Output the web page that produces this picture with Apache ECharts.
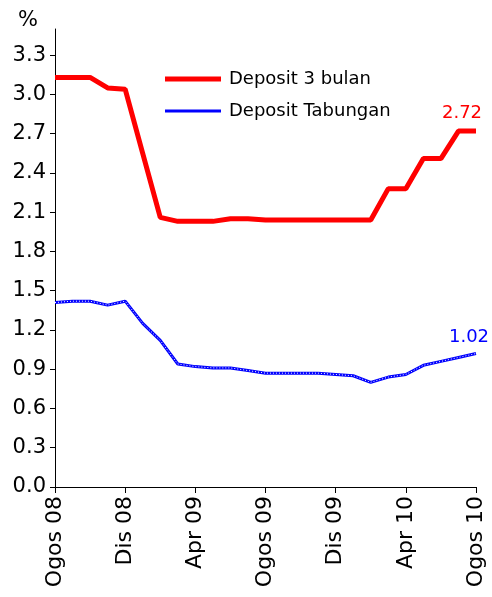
<!DOCTYPE html>
<html>
<head>
<meta charset="utf-8">
<script src="https://cdn.jsdelivr.net/npm/echarts@6/dist/echarts.min.js"></script>
<style>
  html, body { margin: 0; padding: 0; background: #fff; }
  #chart { width: 492px; height: 597px; }
</style>
</head>
<body>
<div id="chart"></div>
<script>
// bulan dari Ogos 08 hingga Ogos 10
const months = ['Ogos', 'Sep', 'Okt', 'Nov', 'Dis', 'Jan', 'Feb', 'Mac', 'Apr', 'Mei', 'Jun', 'Jul']
const categories = []
for (let i = 0; i <= 24; i++) {
    const yr = 8 + Math.floor((i + 7) / 12)
    categories.push(months[i % 12] + ' ' + (yr < 10 ? '0' + yr : '' + yr))
}

const deposit3Bulan = [3.13, 3.13, 3.13, 3.05, 3.04, 2.55, 2.06, 2.03, 2.03, 2.03, 2.05, 2.05, 2.04,
    2.04, 2.04, 2.04, 2.04, 2.04, 2.04, 2.28, 2.28, 2.51, 2.51, 2.72, 2.72]
const depositTabungan = [1.41, 1.42, 1.42, 1.39, 1.42, 1.25, 1.12, 0.94, 0.92, 0.91, 0.91, 0.89, 0.87,
    0.87, 0.87, 0.87, 0.86, 0.85, 0.80, 0.84, 0.86, 0.93, 0.96, 0.99, 1.02]
const yTicks = [0, 0.3, 0.6, 0.9, 1.2, 1.5, 1.8, 2.1, 2.4, 2.7, 3.0, 3.3]

const font = 'DejaVu Sans'

const chart = echarts.init(document.getElementById('chart'))
chart.setOption({
    animation: false,
    textStyle: { fontFamily: font },
    grid: { left: 55, right: 16, top: 29, bottom: 110 },
    legend: {
        orient: 'vertical',
        left: 160,
        top: 65,
        itemWidth: 56,
        itemHeight: 24,
        itemGap: 14,
        textStyle: { fontSize: 18, color: '#000', fontFamily: font, padding: [0, 0, 0, 3] },
        data: [
            { name: 'Deposit 3 bulan', icon: 'path://M0,0H56V5H0Z' },
            { name: 'Deposit Tabungan', icon: 'path://M0,0H56V3H0Z' }
        ]
    },
    xAxis: {
        type: 'category',
        data: categories,
        boundaryGap: false,
        axisLine: { lineStyle: { color: '#000', width: 1 } },
        axisTick: { interval: 3, length: 6, lineStyle: { color: '#000' } },
        axisLabel: { interval: 3, rotate: 90, fontSize: 22, color: '#000', margin: 9, fontFamily: font }
    },
    yAxis: {
        type: 'value',
        min: 0,
        max: 3.5,
        name: '%',
        nameLocation: 'end',
        nameGap: -2,
        nameTextStyle: { fontSize: 21, color: '#000', align: 'right', padding: [0, 17, 0, 0], fontFamily: font },
        splitLine: { show: false },
        axisLine: { show: true, lineStyle: { color: '#000', width: 1 } },
        axisTick: { show: true, length: 5, customValues: yTicks, lineStyle: { color: '#000' } },
        axisLabel: {
            fontSize: 21, color: '#000', margin: 9, fontFamily: font,
            customValues: yTicks,
            formatter: v => v.toFixed(1)
        }
    },
    series: [
        {
            name: 'Deposit 3 bulan',
            type: 'line',
            data: deposit3Bulan,
            symbol: 'none',
            color: '#ff0000',
            lineStyle: { color: '#ff0000', width: 5 },
            endLabel: {
                show: true, fontSize: 18, color: '#ff0000', fontFamily: font,
                distance: 0, align: 'center', verticalAlign: 'bottom', offset: [-14, -9],
                formatter: p => p.value.toFixed(2)
            }
        },
        {
            name: 'Deposit Tabungan',
            type: 'line',
            data: depositTabungan,
            symbol: 'none',
            color: '#0000ff',
            lineStyle: { color: '#0000ff', width: 3 },
            endLabel: {
                show: true, fontSize: 18, color: '#0000ff', fontFamily: font,
                distance: 0, align: 'center', verticalAlign: 'bottom', offset: [-7, -7],
                formatter: p => p.value.toFixed(2)
            }
        },
        {
            // garis putih halus di atas garis biru (corak berpetak)
            name: 'Deposit Tabungan',
            type: 'line',
            data: depositTabungan,
            symbol: 'none',
            silent: true,
            lineStyle: { color: '#ffffff', width: 1, type: [1, 2] }
        }
    ]
})
</script>
</body>
</html>
